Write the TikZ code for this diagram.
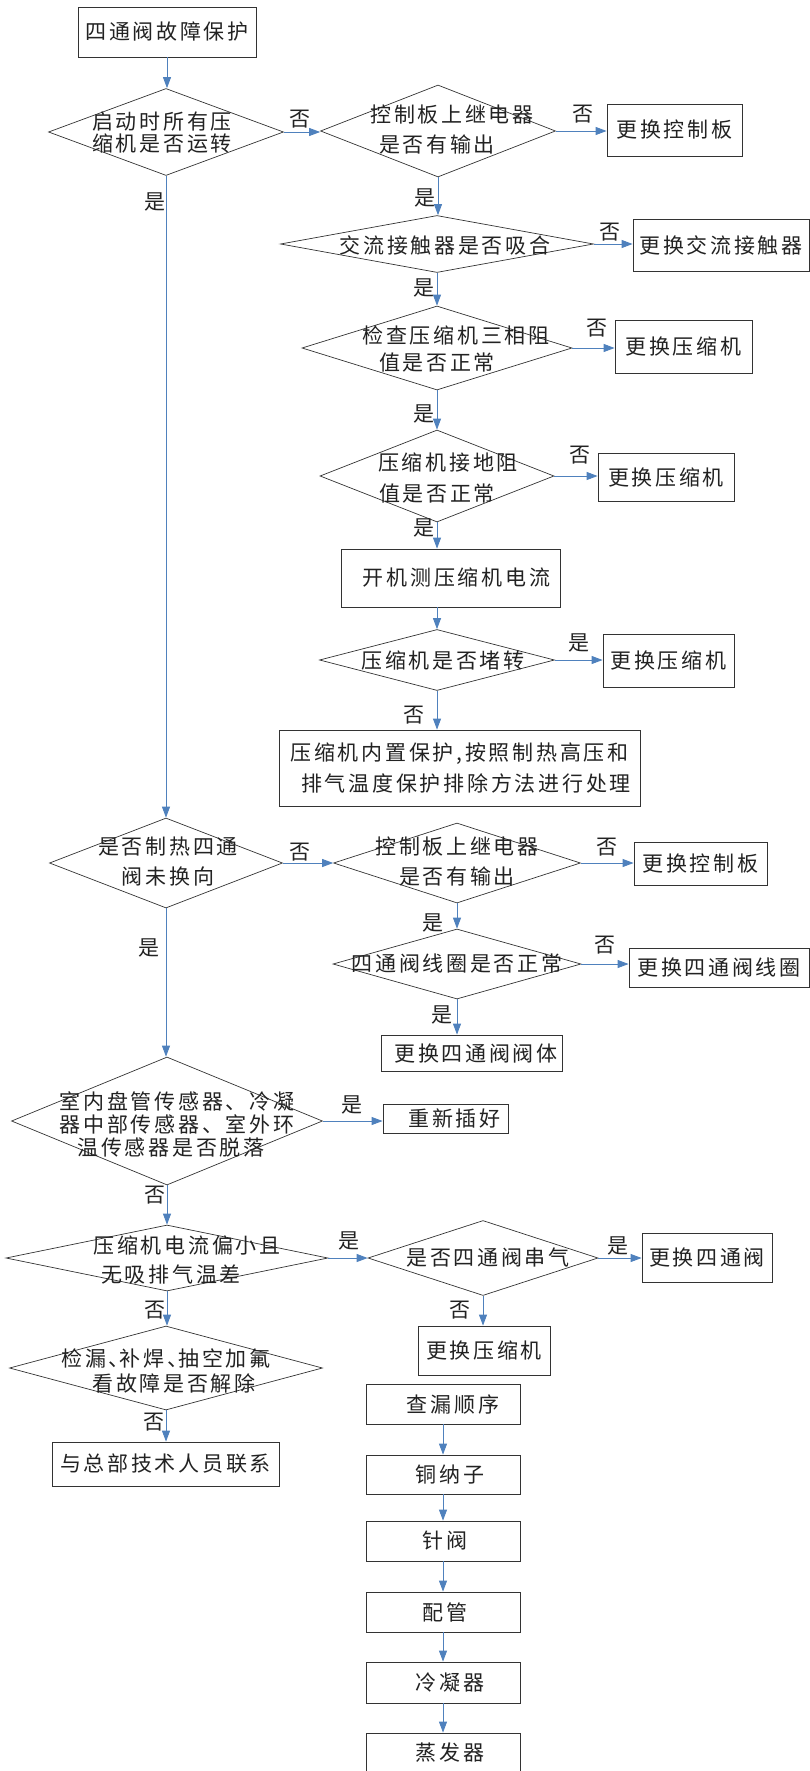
\documentclass[tikz,border=0pt]{standalone}
\usepackage{fontspec}
\newfontfamily\cjk[LetterSpace=13]{Noto Sans CJK SC}
\usetikzlibrary{arrows.meta,shapes.geometric}
\definecolor{arrowblue}{HTML}{4F81BD}
\definecolor{ink}{HTML}{222222}
\definecolor{edge}{HTML}{333333}
\begin{document}
\begin{tikzpicture}[x=1pt,y=-1pt,
  box/.style={draw=edge, line width=0.8pt, inner sep=0pt, text=ink, align=center, font=\cjk\fontsize{21}{31}\selectfont},
  dia/.style={shape=diamond, draw=edge, line width=0.7pt, inner sep=0pt},
  txt/.style={inner sep=0pt, text=ink, align=center, font=\cjk\fontsize{21}{30}\selectfont},
  lbl/.style={inner sep=0pt, text=ink, font=\cjk\fontsize{21}{30}\selectfont},
  arr/.style={draw=arrowblue, line width=0.9pt, -{Triangle[length=11pt,width=8pt]}},
]
\useasboundingbox (0,0) rectangle (810,1771);
\clip (0,0) rectangle (810,1771);

% ---------- boxes ----------
\node[box, minimum width=178pt, minimum height=50pt] (b0) at (167,32) {四通阀故障保护};
\node[box, minimum width=135pt, minimum height=52pt] (b1) at (674.5,130) {更换控制板};
\node[box, minimum width=176pt, minimum height=52pt] (b2) at (721,245) {更换交流接触器};
\node[box, minimum width=137pt, minimum height=53pt] (b3) at (683.5,346.5) {更换压缩机};
\node[box, minimum width=136pt, minimum height=48pt] (b4) at (666,477) {更换压缩机};
\node[box, minimum width=219pt, minimum height=58pt] (b5) at (450.5,578) {\rule{12pt}{0pt}开机测压缩机电流};
\node[box, minimum width=131pt, minimum height=53pt] (b6) at (668.5,660.5) {更换压缩机};
\node[box, minimum width=361pt, minimum height=76pt] (b7) at (459.5,768) {压缩机内置保护,按照制热高压和\\\rule{13pt}{0pt}排气温度保护排除方法进行处理};
\node[box, minimum width=133pt, minimum height=43pt] (b8) at (700.5,863.5) {更换控制板};
\node[box, minimum width=180pt, minimum height=39pt] (b9) at (719,967.5) {更换四通阀线圈};
\node[box, minimum width=181pt, minimum height=36pt] (b10) at (471.5,1053) {\rule{9pt}{0pt}更换四通阀阀体};
\node[box, minimum width=125pt, minimum height=29pt] (b11) at (445.5,1118.5) {\rule{18pt}{0pt}重新插好};
\node[box, minimum width=130pt, minimum height=49pt] (b12) at (707,1257.5) {更换四通阀};
\node[box, minimum width=132pt, minimum height=49pt] (b13) at (484,1350.5) {更换压缩机};
\node[box, minimum width=227pt, minimum height=44pt] (b14) at (165.5,1464) {与总部技术人员联系};

\node[box, minimum width=154pt, minimum height=40pt] (c1) at (443,1404) {\rule{20pt}{0pt}查漏顺序};
\node[box, minimum width=154pt, minimum height=39pt] (c2) at (443,1474.5) {\rule{14pt}{0pt}铜纳子};
\node[box, minimum width=154pt, minimum height=40pt] (c3) at (443,1541) {\rule{4pt}{0pt}针阀};
\node[box, minimum width=154pt, minimum height=40pt] (c4) at (443,1612) {\rule{4pt}{0pt}配管};
\node[box, minimum width=154pt, minimum height=41pt] (c5) at (443,1682.5) {\rule{14pt}{0pt}冷凝器};
\node[box, minimum width=154pt, minimum height=40pt] (c6) at (443,1753) {\rule{14pt}{0pt}蒸发器};

% ---------- diamonds ----------
\node[dia, minimum width=235pt, minimum height=87pt] (d1) at (166,132) {};
\node[dia, minimum width=235pt, minimum height=92pt] (d2) at (438,131) {};
\node[dia, minimum width=313pt, minimum height=57pt] (d3) at (437,244) {};
\node[dia, minimum width=270pt, minimum height=84pt] (d4) at (437,348) {};
\node[dia, minimum width=234pt, minimum height=92pt] (d5) at (437,476) {};
\node[dia, minimum width=235pt, minimum height=61pt] (d6) at (437,660) {};
\node[dia, minimum width=233pt, minimum height=90pt] (d7) at (166,863) {};
\node[dia, minimum width=247pt, minimum height=80pt] (d8) at (457,863) {};
\node[dia, minimum width=248pt, minimum height=70pt] (d9) at (457,964) {};
\node[dia, minimum width=311pt, minimum height=128pt] (d10) at (167,1121) {};
\node[dia, minimum width=322pt, minimum height=66pt] (d11) at (167,1258) {};
\node[dia, minimum width=230pt, minimum height=75pt] (d12) at (483,1258) {};
\node[dia, minimum width=313pt, minimum height=84pt] (d13) at (166,1368) {};

% ---------- diamond texts ----------
\node[txt, font=\cjk\fontsize{21}{22}\selectfont] (t1) at (162,133) {启动时所有压\\缩机是否运转};
\node[txt] (t2) at (437,130) {\rule{30pt}{0pt}控制板上继电器\\是否有输出};
\node[txt] (t3) at (445,245) {交流接触器是否吸合};
\node[txt, font=\cjk\fontsize{21}{27}\selectfont] (t4) at (437,348.5) {\rule{38pt}{0pt}检查压缩机三相阻\\值是否正常};
\node[txt, font=\cjk\fontsize{21}{31}\selectfont] (t5) at (437,477.5) {\rule{22pt}{0pt}压缩机接地阻\\值是否正常};
\node[txt] (t6) at (443,660) {压缩机是否堵转};
\node[txt] (t7) at (168,862) {是否制热四通\\阀未换向};
\node[txt] (t8) at (457,862) {控制板上继电器\\是否有输出};
\node[txt] (t9) at (457,963) {四通阀线圈是否正常};
\node[txt, font=\cjk\fontsize{21}{23}\selectfont] (t10) at (177,1124) {室内盘管传感器、冷凝\\器中部传感器、室外环\\温传感器是否脱落\rule{12pt}{0pt}};
\node[txt, font=\cjk\fontsize{21}{29}\selectfont] (t11) at (171,1259.5) {\rule{32pt}{0pt}压缩机电流偏小且\\无吸排气温差};
\node[txt] (t12) at (488,1257) {是否四通阀串气};
\node[txt, font=\cjk\fontsize{21}{25}\selectfont] (t13) at (166,1370.5) {检漏、\kern-10pt补焊、\kern-10pt抽空加氟\\\rule{16pt}{0pt}看故障是否解除};

% ---------- connectors ----------
\draw[arr] (b0.south) -- (b0.south |- d1.north);
\draw[arr] (d1.east) -- (d1.east -| d2.west) node[lbl, pos=.45, yshift=13pt] (n1) {否};
\draw[arr] (d1.south) -- (d1.south |- d7.north) node[lbl, pos=.041, xshift=-11pt] (n2) {是};
\draw[arr] (d2.east) -- (d2.east -| b1.west) node[lbl, pos=.53, yshift=17pt] (n3) {否};
\draw[arr] (d2.south) -- (d2.south |- d3.north) node[lbl, pos=.55, xshift=-13pt] (n4) {是};
\draw[arr] (d3.east) -- (d3.east -| b2.west) node[lbl, pos=.42, yshift=12pt] (n5) {否};
\draw[arr] (d3.south) -- (d3.south |- d4.north) node[lbl, pos=.46, xshift=-13pt] (n6) {是};
\draw[arr] (d4.east) -- (d4.east -| b3.west) node[lbl, pos=.58, yshift=20pt] (n7) {否};
\draw[arr] (d4.south) -- (d4.south |- d5.north) node[lbl, pos=.61, xshift=-13pt] (n8) {是};
\draw[arr] (d5.east) -- (d5.east -| b4.west) node[lbl, pos=.59, yshift=21pt] (n9) {否};
\draw[arr] (d5.south) -- (d5.south |- b5.north) node[lbl, pos=.23, xshift=-13pt] (n10) {是};
\draw[arr] (b5.south -| d6.north) -- (d6.north);
\draw[arr] (d6.east) -- (d6.east -| b6.west) node[lbl, pos=.5, yshift=17pt] (n11) {是};
\draw[arr] (d6.south) -- (d6.south |- b7.north) node[lbl, pos=.62, xshift=-23pt] (n12) {否};
\draw[arr] (d7.east) -- (d7.east -| d8.west) node[lbl, pos=.34, yshift=11pt] (n13) {否};
\draw[arr] (d7.south) -- (d7.south |- d10.north) node[lbl, pos=.27, xshift=-17pt] (n14) {是};
\draw[arr] (d8.east) -- (d8.east -| b8.west) node[lbl, pos=.5, yshift=16pt] (n15) {否};
\draw[arr] (d8.south) -- (d8.south |- d9.north) node[lbl, pos=.77, xshift=-24pt] (n16) {是};
\draw[arr] (d9.east) -- (d9.east -| b9.west) node[lbl, pos=.5, yshift=19pt] (n17) {否};
\draw[arr] (d9.south) -- (d9.south |- b10.north) node[lbl, pos=.44, xshift=-15pt] (n18) {是};
\draw[arr] (d10.east) -- (d10.east -| b11.west) node[lbl, pos=.49, yshift=16pt] (n19) {是};
\draw[arr] (d10.south) -- (d10.south |- d11.north) node[lbl, pos=.25, xshift=-12pt] (n20) {否};
\draw[arr] (d11.east) -- (d11.east -| d12.west) node[lbl, pos=.52, yshift=17pt] (n21) {是};
\draw[arr] (d11.south) -- (d11.south |- d13.north) node[lbl, pos=.54, xshift=-12pt] (n22) {否};
\draw[arr] (d12.east) -- (d12.east -| b12.west) node[lbl, pos=.45, yshift=12pt] (n23) {是};
\draw[arr] (d12.south) -- (d12.south |- b13.north) node[lbl, pos=.48, xshift=-23pt] (n24) {否};
\draw[arr] (d13.south) -- (d13.south |- b14.north) node[lbl, pos=.375, xshift=-12pt] (n25) {否};

\draw[arr] (c1.south) -- (c2.north);
\draw[arr] (c2.south) -- (c3.north);
\draw[arr] (c3.south) -- (c4.north);
\draw[arr] (c4.south) -- (c5.north);
\draw[arr] (c5.south) -- (c6.north);
\end{tikzpicture}
\end{document}
